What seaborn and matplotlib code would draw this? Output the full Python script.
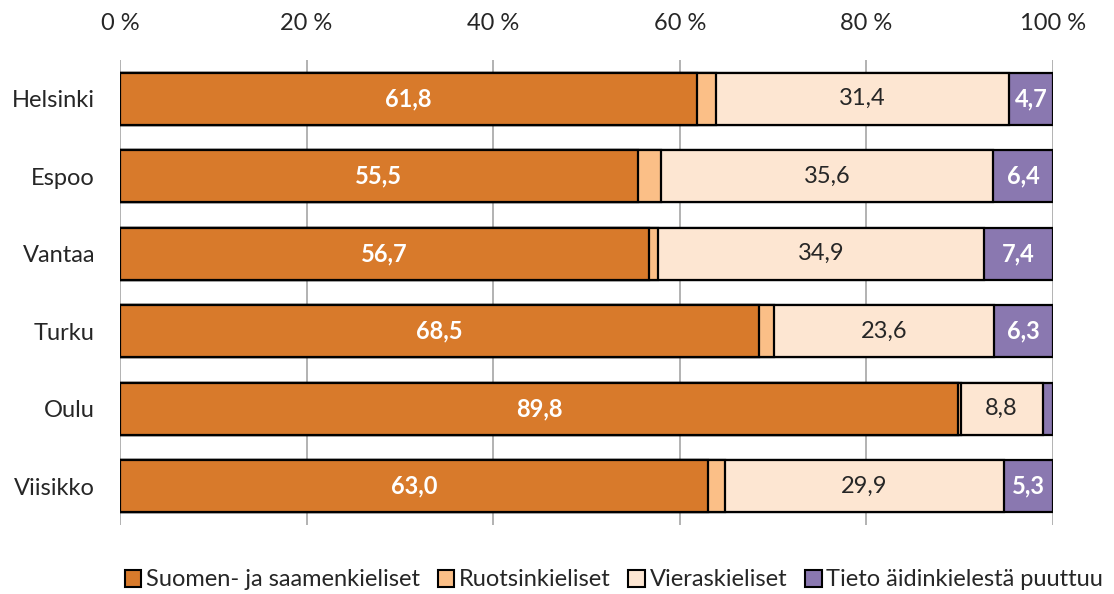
import numpy as np
import pandas as pd
import matplotlib.pyplot as plt
import seaborn as sns
from matplotlib.patches import Patch

# ── Data ───────────────────────────────────────────────────
cities = ["Helsinki", "Espoo", "Vantaa", "Turku", "Oulu", "Viisikko"]
suomi  = [61.8, 55.5, 56.7, 68.5, 89.8, 63.0]
ruotsi = [2.1, 2.5, 1.0, 1.6, 0.3, 1.8]
vieras = [31.4, 35.6, 34.9, 23.6, 8.8, 29.9]
tieto  = [4.7, 6.4, 7.4, 6.3, 1.1, 5.3]
series_names = ["Suomen- ja saamenkieliset", "Ruotsinkieliset",
                "Vieraskieliset", "Tieto äidinkielestä puuttuu"]
ticks = [0, 20, 40, 60, 80, 100]

COLORS = ["#d87a2b", "#fbbf87", "#fde6d2", "#8a78b0"]
FS = 17

sns.set_theme(style="white")
plt.rcParams["font.family"] = ["Lato", "DejaVu Sans"]

df = pd.DataFrame({"city": cities, "s": suomi, "r": ruotsi, "v": vieras, "t": tieto})
layers = [df["s"], df["s"] + df["r"], df["s"] + df["r"] + df["v"],
          df["s"] + df["r"] + df["v"] + df["t"]]

fig = plt.figure(figsize=(11.14, 5.94), dpi=100)
ax = fig.add_axes([120 / 1114, 1 - 525 / 594, (1053 - 120) / 1114, (525 - 60) / 594])

# stacked bars: draw cumulative totals from the back
for cum, col in zip(layers[::-1], COLORS[::-1]):
    sns.barplot(x=cum.values, y=df["city"], orient="h", color=col, ax=ax,
                width=0.67, edgecolor="black", linewidth=1.6, saturation=1)

ax.set_xlim(0, 100)
ax.set_ylim(5.5, -0.5)
ax.set_xticks(ticks)
ax.set_xticklabels([f"{t} %" for t in ticks])
ax.xaxis.tick_top()
ax.tick_params(axis="x", length=0, pad=19, labelsize=FS, colors="#262626")
ax.tick_params(axis="y", length=0, pad=18, labelsize=FS, colors="#262626")
ax.set_xlabel("")
ax.set_ylabel("")
for s in ax.spines.values():
    s.set_visible(False)
ax.grid(axis="x", color="#a6a6a6", linewidth=1.2)
ax.set_axisbelow(True)

def fmt(v):
    return f"{v:.1f}".replace(".", ",")

for i in range(len(cities)):
    ax.text(suomi[i] / 2, i, fmt(suomi[i]), ha="center", va="center",
            color="white", fontsize=FS, fontweight="bold")
    x0 = suomi[i] + ruotsi[i]
    ax.text(x0 + vieras[i] / 2, i, fmt(vieras[i]), ha="center", va="center",
            color="#262626", fontsize=FS)
    if tieto[i] > 2:
        x1 = x0 + vieras[i]
        ax.text(x1 + tieto[i] / 2, i, fmt(tieto[i]), ha="center", va="center",
                color="white", fontsize=FS, fontweight="bold")

handles = [Patch(facecolor=c, edgecolor="black", linewidth=1.5) for c in COLORS]
fig.legend(handles, series_names, loc="center", bbox_to_anchor=(614 / 1114, 1 - 580 / 594),
           ncol=4, frameon=False, fontsize=FS, handlelength=0.7, handleheight=0.7,
           handletextpad=0.2, columnspacing=0.75, labelcolor="#262626",
           borderaxespad=0, borderpad=0)

plt.savefig("out.png", dpi=100)
plt.close()
